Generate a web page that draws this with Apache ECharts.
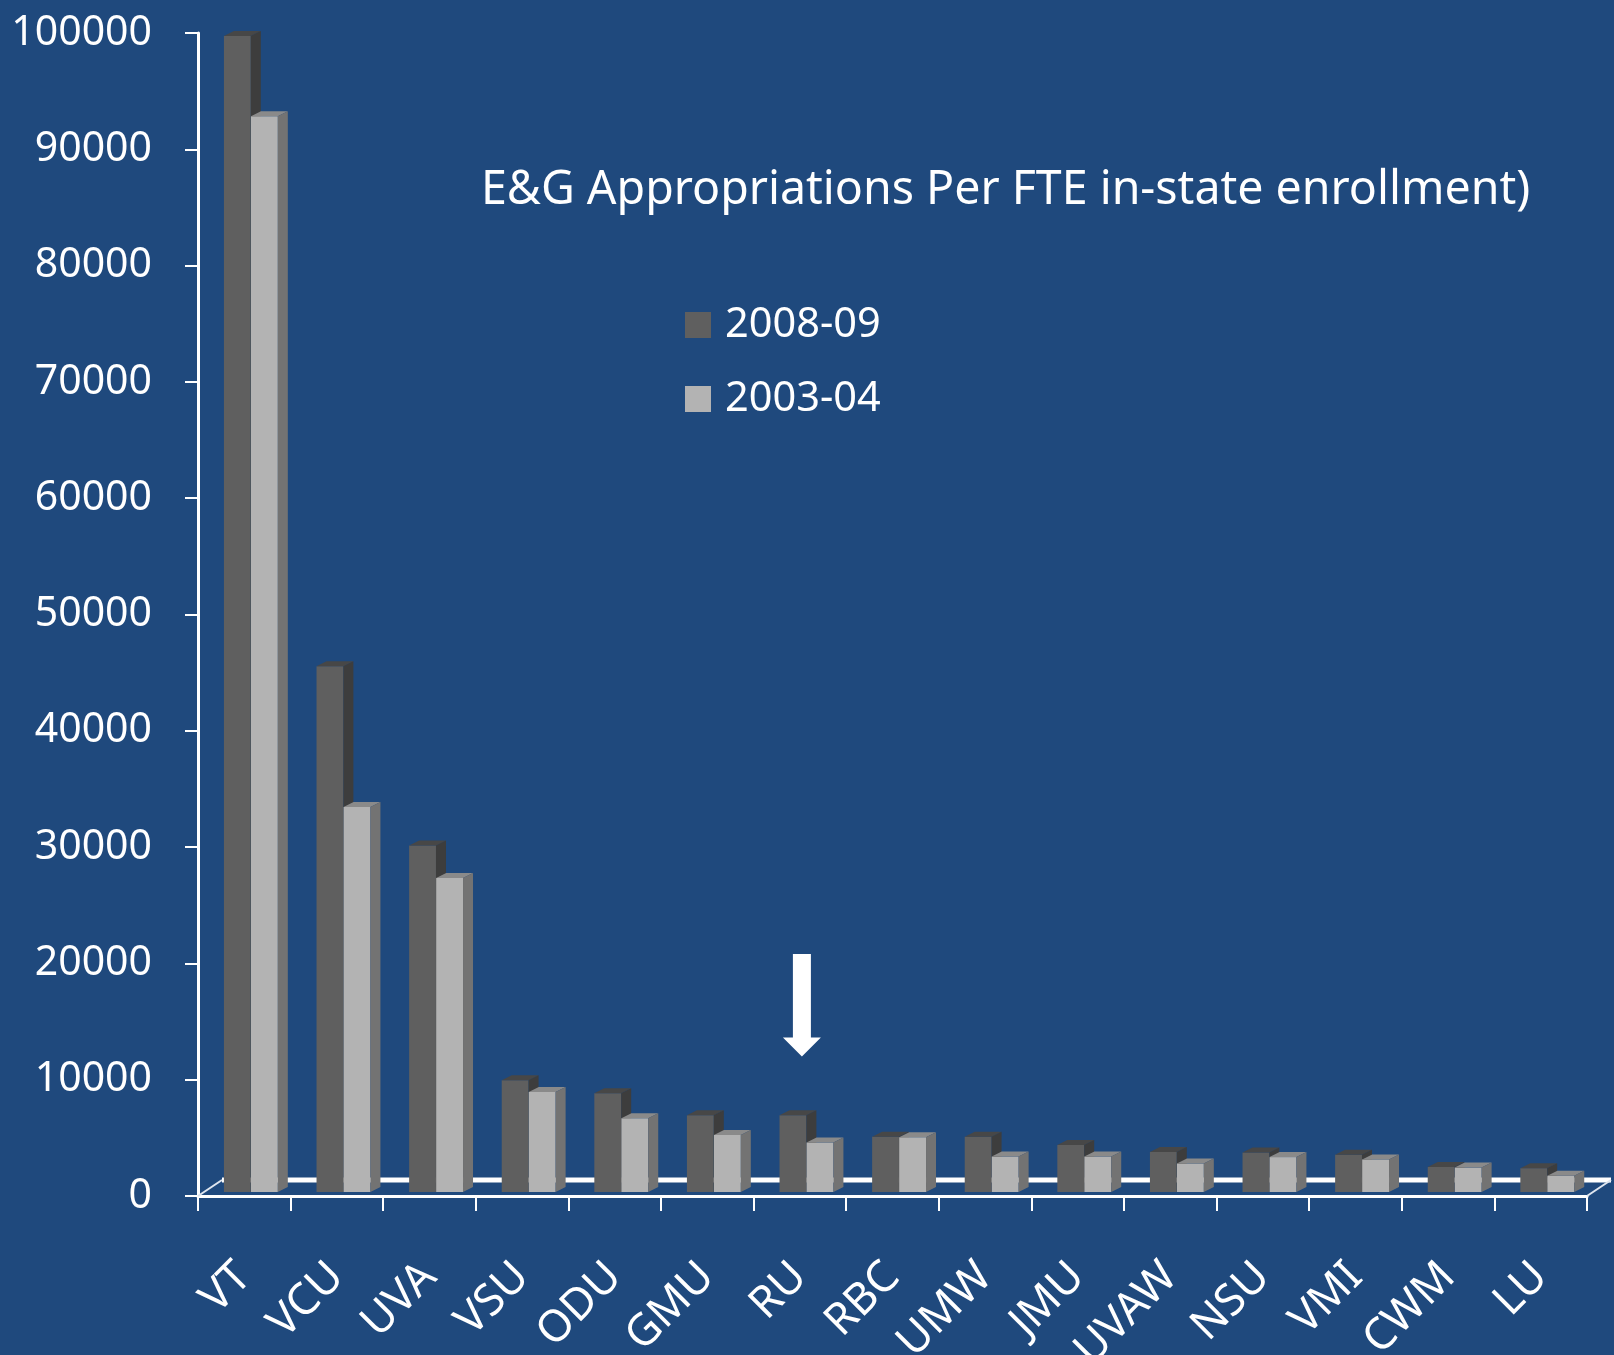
<!DOCTYPE html>
<html>
<head>
<meta charset="utf-8">
<style>
  html, body { margin: 0; padding: 0; background: #1F497D; }
  #chart { width: 1614px; height: 1355px; }
</style>
<script src="https://cdn.jsdelivr.net/npm/echarts@6/dist/echarts.min.js"></script>
</head>
<body>
<div id="chart"></div>
<script>
// ---- data ----
const categories = ['VT', 'VCU', 'UVA', 'VSU', 'ODU', 'GMU', 'RU', 'RBC', 'UMW', 'JMU', 'UVAW', 'NSU', 'VMI', 'CWM', 'LU'];
const values0809 = [99400, 45200, 29800, 9600, 8500, 6600, 6600, 4750, 4750, 4050, 3450, 3400, 3200, 2150, 2050];
const values0304 = [92500, 33100, 27000, 8600, 6350, 4900, 4250, 4700, 3050, 3050, 2450, 3000, 2800, 2100, 1400];
const seriesNames = ['2008-09', '2003-04'];
const yMin = 0, yMax = 100000, yInterval = 10000;
const titleText = 'E&G Appropriations Per FTE in-state enrollment)';
const arrowCategory = 'RU';
const arrowFrom = 20800, arrowTo = 12000;

// ---- styles ----
const FONT = 'Noto Sans';
const darkColors = { front: '#5f5f5f', top: '#474747', side: '#3d3d3d' };
const lightColors = { front: '#b3b3b3', top: '#8a8a8a', side: '#737373' };

function makeBar(offsetFrac, colors) {
  return function (params, api) {
    const i = api.value(0), v = api.value(1);
    const band = api.size([1, 0])[0];
    const base = api.coord([i, 0]);
    const top = api.coord([i, v]);
    const lift = 4, dx = 10, dy = 5;
    const w = band * 0.29;
    const x0 = base[0] + band * offsetFrac;
    const yb = base[1] - lift, yt = top[1] - lift;
    return {
      type: 'group',
      children: [
        { type: 'rect', shape: { x: x0, y: yt, width: w, height: yb - yt }, style: { fill: colors.front } },
        { type: 'polygon', shape: { points: [[x0, yt], [x0 + dx, yt - dy], [x0 + w + dx, yt - dy], [x0 + w, yt]] }, style: { fill: colors.top } },
        { type: 'polygon', shape: { points: [[x0 + w, yt], [x0 + w + dx, yt - dy], [x0 + w + dx, yb - dy], [x0 + w, yb]] }, style: { fill: colors.side } }
      ]
    };
  };
}

function renderFloor(params, api) {
  const band = api.size([1, 0])[0];
  const first = api.coord([0, 0]);
  const last = api.coord([categories.length - 1, 0]);
  const xL = first[0] - band / 2, xR = last[0] + band / 2, y = first[1];
  const fx = 24, fy = 16;
  return {
    type: 'group',
    children: [
      { type: 'line', shape: { x1: xL + fx, y1: y - fy, x2: xR + fx, y2: y - fy }, style: { stroke: '#ffffff', lineWidth: 5 } },
      { type: 'line', shape: { x1: xL, y1: y, x2: xL + fx, y2: y - fy }, style: { stroke: '#dfe6ef', lineWidth: 2 } },
      { type: 'line', shape: { x1: xR, y1: y, x2: xR + fx, y2: y - fy }, style: { stroke: '#dfe6ef', lineWidth: 2 } }
    ]
  };
}

function renderArrow(params, api) {
  const i = api.value(0);
  const pTop = api.coord([i, api.value(1)]);
  const pTip = api.coord([i, api.value(2)]);
  const cx = pTop[0] + 2;
  const shaftHalf = 9, headHalf = 19, headH = 19;
  const yNeck = pTip[1] - headH;
  return {
    type: 'polygon',
    shape: { points: [
      [cx - shaftHalf, pTop[1]], [cx + shaftHalf, pTop[1]], [cx + shaftHalf, yNeck],
      [cx + headHalf, yNeck], [cx, pTip[1]], [cx - headHalf, yNeck], [cx - shaftHalf, yNeck]
    ] },
    style: { fill: '#ffffff' }
  };
}

const chart = echarts.init(document.getElementById('chart'), null, { renderer: 'canvas' });
chart.setOption({
  backgroundColor: '#1F497D',
  animation: false,
  title: {
    text: titleText,
    left: 481,
    top: 167,
    padding: 0,
    textStyle: { color: '#ffffff', fontFamily: FONT, fontWeight: 'normal', fontSize: 46.5 }
  },
  legend: {
    data: seriesNames,
    orient: 'vertical',
    left: 685,
    top: 304,
    padding: 0,
    icon: 'rect',
    itemWidth: 26,
    itemHeight: 26,
    itemGap: 32,
    textStyle: { color: '#ffffff', fontFamily: FONT, fontSize: 41.5, lineHeight: 41, padding: [0, 0, 0, 9] }
  },
  grid: { left: 198, right: 27, top: 33, bottom: 159, containLabel: false, outerBoundsMode: 'none' },
  xAxis: {
    type: 'category',
    data: categories,
    boundaryGap: true,
    axisLine: { show: true, lineStyle: { color: '#ffffff', width: 3 } },
    axisTick: { show: true, interval: 0, length: 15, lineStyle: { color: '#ffffff', width: 2 } },
    axisLabel: { interval: 0, rotate: 45, margin: 74, color: '#ffffff', fontFamily: FONT, fontSize: 44 },
    splitLine: { show: false }
  },
  yAxis: {
    type: 'value',
    min: yMin, max: yMax, interval: yInterval,
    axisLine: { show: true, lineStyle: { color: '#ffffff', width: 3 } },
    axisTick: { show: true, length: 13, lineStyle: { color: '#ffffff', width: 2 } },
    axisLabel: { margin: 46, color: '#ffffff', fontFamily: FONT, fontSize: 41, formatter: function (v) { return String(v); } },
    splitLine: { show: false }
  },
  series: [
    { type: 'custom', name: 'floor', z: 1, silent: true, renderItem: renderFloor, data: [[0, 0]], encode: { x: 0, y: 1 } },
    { type: 'custom', name: seriesNames[0], z: 2, itemStyle: { color: darkColors.front },
      renderItem: makeBar(-0.22, darkColors), encode: { x: 0, y: 1 },
      data: values0809.map((v, i) => [i, v]) },
    { type: 'custom', name: seriesNames[1], z: 2, itemStyle: { color: lightColors.front },
      renderItem: makeBar(0.072, lightColors), encode: { x: 0, y: 1 },
      data: values0304.map((v, i) => [i, v]) },
    { type: 'custom', name: 'arrow', z: 3, silent: true, renderItem: renderArrow, encode: { x: 0, y: [1, 2] },
      data: [[categories.indexOf(arrowCategory), arrowFrom, arrowTo]] }
  ]
});
</script>
</body>
</html>
